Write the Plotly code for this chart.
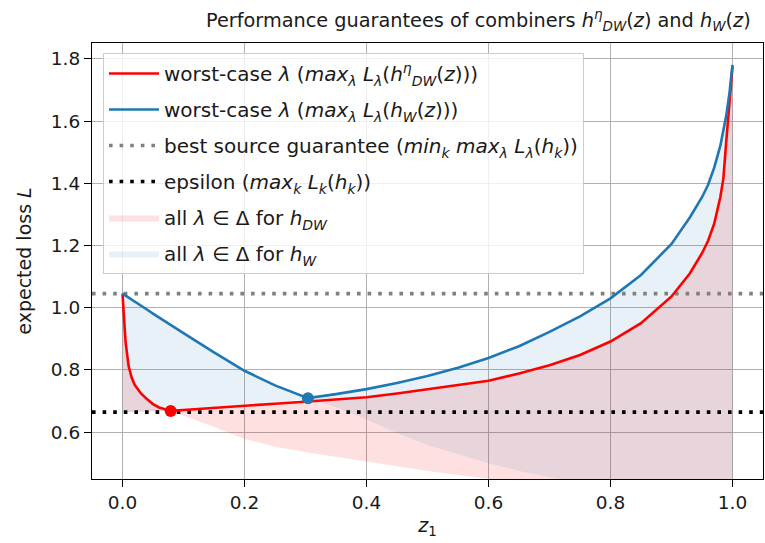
import numpy as np
import plotly.graph_objects as go

# mixing weight of the first source
z1 = [0.0, 0.0025, 0.005, 0.01, 0.015, 0.02, 0.03, 0.04, 0.05, 0.06, 0.07, 0.079,
      0.1, 0.15, 0.2, 0.25, 0.304, 0.35, 0.4, 0.45, 0.5, 0.55, 0.6, 0.65, 0.7,
      0.75, 0.8, 0.85, 0.9, 0.93, 0.95, 0.96, 0.97, 0.98, 0.985, 0.99, 0.995, 1.0]

# distribution-weighted combiner h_DW: worst and best lambda
dw_worst = [1.045, 0.95, 0.89, 0.812, 0.775, 0.752, 0.725, 0.706, 0.690, 0.679,
            0.672, 0.668, 0.671, 0.677, 0.684, 0.691, 0.698, 0.705, 0.712, 0.724,
            0.737, 0.750, 0.765, 0.788, 0.815, 0.848, 0.891, 0.950, 1.036, 1.110,
            1.175, 1.215, 1.270, 1.355, 1.415, 1.540, 1.650, 1.776]
dw_best = [0.664, 0.664, 0.664, 0.665, 0.665, 0.665, 0.666, 0.666, 0.667, 0.667,
           0.667, 0.668, 0.652, 0.617, 0.578, 0.553, 0.534, 0.520, 0.504, 0.489,
           0.475, 0.462, 0.449, 0.437, 0.425, 0.413, 0.400, 0.390, 0.380, 0.373,
           0.370, 0.368, 0.366, 0.364, 0.363, 0.362, 0.361, 0.360]

# weighted combiner h_W: worst and best lambda
w_worst = [1.045, 1.042, 1.039, 1.033, 1.026, 1.020, 1.007, 0.994, 0.981, 0.968,
           0.956, 0.944, 0.918, 0.856, 0.797, 0.750, 0.709, 0.722, 0.738, 0.758,
           0.780, 0.807, 0.838, 0.876, 0.922, 0.972, 1.030, 1.105, 1.205, 1.290,
           1.355, 1.395, 1.450, 1.520, 1.565, 1.620, 1.690, 1.781]
w_best = [0.664, 0.664, 0.664, 0.665, 0.665, 0.665, 0.666, 0.666, 0.667, 0.667,
          0.667, 0.668, 0.669, 0.675, 0.682, 0.690, 0.709, 0.680, 0.640, 0.597,
          0.558, 0.528, 0.500, 0.475, 0.454, 0.435, 0.418, 0.403, 0.390, 0.383,
          0.379, 0.377, 0.375, 0.373, 0.372, 0.371, 0.370, 0.369]

best_source = 1.045   # min_k max_lambda L_lambda(h_k)
epsilon = 0.664       # max_k L_k(h_k)

x_range = [-0.05, 1.05]
y_range = [0.449, 1.851]

RED = "rgb(255,0,0)"
BLUE = "#1f77b4"
FONT = "DejaVu Sans"
TXT = "#1a1a1a"

z = np.array(z1)
i_dw = int(np.argmin(dw_worst))
i_w = int(np.argmin(w_worst))

fig = go.Figure()

# shaded bands over all lambda in the simplex
fig.add_trace(go.Scatter(x=z, y=dw_best, mode="lines", line=dict(width=0),
                         showlegend=False, hoverinfo="skip", legendgroup="g5"))
fig.add_trace(go.Scatter(x=z, y=dw_worst, mode="lines", line=dict(width=0),
                         fill="tonexty", fillcolor="rgba(255,0,0,0.12)",
                         name="all <i>λ</i> ∈ Δ for <i>h</i><sub><i>DW</i></sub>",
                         legendgroup="g5", legendrank=5))
fig.add_trace(go.Scatter(x=z, y=w_best, mode="lines", line=dict(width=0),
                         showlegend=False, hoverinfo="skip", legendgroup="g6"))
fig.add_trace(go.Scatter(x=z, y=w_worst, mode="lines", line=dict(width=0),
                         fill="tonexty", fillcolor="rgba(31,119,180,0.10)",
                         name="all <i>λ</i> ∈ Δ for <i>h</i><sub><i>W</i></sub>",
                         legendgroup="g6", legendrank=6))

# reference levels across the whole axis
fig.add_trace(go.Scatter(x=x_range, y=[best_source, best_source], mode="lines",
                         line=dict(color="gray", width=3.6, dash="3.6px,7px"),
                         name="best source guarantee (<i>min</i><sub><i>k</i></sub> <i>max</i><sub><i>λ</i></sub> <i>L</i><sub><i>λ</i></sub>(<i>h</i><sub><i>k</i></sub>))",
                         legendgroup="g3", legendrank=3))
fig.add_trace(go.Scatter(x=x_range, y=[epsilon, epsilon], mode="lines",
                         line=dict(color="black", width=3.6, dash="3.6px,7px"),
                         name="epsilon (<i>max</i><sub><i>k</i></sub> <i>L</i><sub><i>k</i></sub>(<i>h</i><sub><i>k</i></sub>))",
                         legendgroup="g4", legendrank=4))

# worst-case curves
fig.add_trace(go.Scatter(x=z, y=dw_worst, mode="lines", line=dict(color=RED, width=2.6),
                         name="worst-case <i>λ</i> (<i>max</i><sub><i>λ</i></sub> <i>L</i><sub><i>λ</i></sub>(<i>h</i><sup><i>η</i></sup><sub><i>DW</i></sub>(<i>z</i>)))",
                         legendgroup="g1", legendrank=1))
fig.add_trace(go.Scatter(x=z, y=w_worst, mode="lines", line=dict(color=BLUE, width=2.6),
                         name="worst-case <i>λ</i> (<i>max</i><sub><i>λ</i></sub> <i>L</i><sub><i>λ</i></sub>(<i>h</i><sub><i>W</i></sub>(<i>z</i>)))",
                         legendgroup="g2", legendrank=2))

# minimax points
fig.add_trace(go.Scatter(x=[z[i_dw]], y=[dw_worst[i_dw]], mode="markers",
                         marker=dict(color=RED, size=12), showlegend=False))
fig.add_trace(go.Scatter(x=[z[i_w]], y=[w_worst[i_w]], mode="markers",
                         marker=dict(color=BLUE, size=12), showlegend=False))

axis_common = dict(
    showgrid=True, gridcolor="#b0b0b0", gridwidth=1.1,
    showline=True, linecolor="black", linewidth=1.2, mirror=True,
    ticks="outside", ticklen=7, tickwidth=1.1, tickcolor="black",
    tickfont=dict(family=FONT, size=18.5, color=TXT),
    zeroline=False, tickformat=".1f", dtick=0.2, tick0=0,
)

fig.update_layout(
    width=765, height=543,
    margin=dict(l=92, r=2, t=43, b=64),
    paper_bgcolor="white", plot_bgcolor="white",
    font=dict(family=FONT, size=19, color=TXT),
    title=dict(text="Performance guarantees of combiners <i>h</i><sup><i>η</i></sup><sub><i>DW</i></sub>(<i>z</i>) and <i>h</i><sub><i>W</i></sub>(<i>z</i>)",
               xref="container", x=206 / 765, xanchor="left",
               yref="container", y=1 - 20 / 543, yanchor="middle",
               font=dict(family=FONT, size=19.3, color=TXT)),
    xaxis=dict(range=x_range, title=dict(text="<i>z</i><sub>1</sub>", standoff=6,
               font=dict(family=FONT, size=19)), **axis_common),
    yaxis=dict(range=y_range, title=dict(text="expected loss <i>L</i>", standoff=14,
               font=dict(family=FONT, size=19)), **axis_common),
    legend=dict(x=0.0164, y=0.977, xanchor="left", yanchor="top",
                bgcolor="rgba(255,255,255,0.8)", bordercolor="#cccccc", borderwidth=1,
                traceorder="grouped", tracegroupgap=7, itemwidth=50,
                font=dict(family=FONT, size=20, color=TXT)),
    showlegend=True,
)

fig.write_html("out.html")
